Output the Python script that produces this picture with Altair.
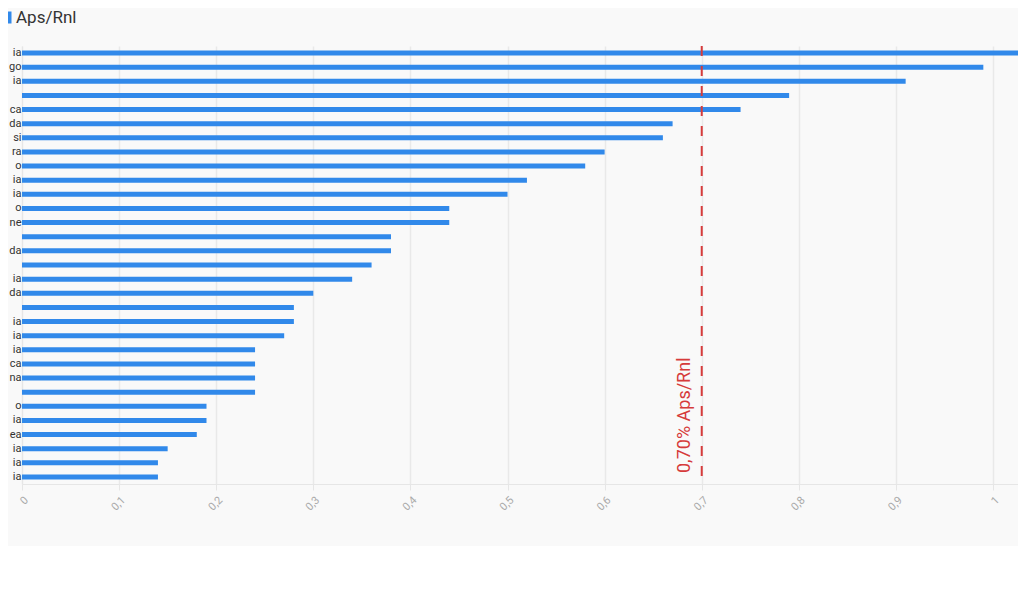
import altair as alt
import pandas as pd

# --- data ---
labels = ["ia", "go", "ia", "", "ca", "da", "si", "ra", "o", "ia", "ia", "o", "ne", "",
          "da", "", "ia", "da", "", "ia", "ia", "ia", "ca", "na", "", "o", "ia", "ea",
          "ia", "ia", "ia"]
values = [1.04, 0.99, 0.91, 0.79, 0.74, 0.67, 0.66, 0.60, 0.58, 0.52, 0.50, 0.44, 0.44,
          0.38, 0.38, 0.36, 0.34, 0.30, 0.28, 0.28, 0.27, 0.24, 0.24, 0.24, 0.24, 0.19,
          0.19, 0.18, 0.15, 0.14, 0.14]
x_ticks = [0, 0.1, 0.2, 0.3, 0.4, 0.5, 0.6, 0.7, 0.8, 0.9, 1.0]
series_name = "Aps/Rnl"
threshold = [0.7]
threshold_note = ["0,70% Aps/Rnl"]

keys = [f"{i:02d}" for i in range(len(values))]
df = pd.DataFrame({"key": keys, "label": labels, "value": values,
                   "series": [series_name] * len(values)})
ref = pd.DataFrame({"x": threshold, "note": threshold_note})

label_js = "[" + ",".join("'" + l + "'" for l in labels) + "]"

BLUE = "#3189ea"
RED = "#d63b3b"

x_scale = alt.Scale(domain=[0, 1.0257], nice=False, zero=True)

bars = alt.Chart(df).mark_bar(size=5, clip=True).encode(
    x=alt.X("value:Q", scale=x_scale,
            axis=alt.Axis(values=x_ticks, title=None, grid=True, gridColor="#e9e9e9",
                          gridWidth=1.5, domainColor="#e6e6e6", tickColor="#e6e6e6",
                          tickSize=6, labelColor="#aaaaaa", labelFontSize=11,
                          labelAngle=-45, labelPadding=4,
                          labelExpr="replace(format(datum.value, '~g'), '.', ',')")),
    y=alt.Y("key:N", sort=keys, scale=alt.Scale(paddingInner=0, paddingOuter=0),
            axis=alt.Axis(title=None, labelExpr=label_js + "[toNumber(datum.value)]",
                          labelFontSize=11, labelColor="#333333", tickSize=0,
                          labelPadding=1, domainColor="#e6e6e6", grid=False)),
    color=alt.Color("series:N", scale=alt.Scale(range=[BLUE]),
                    legend=alt.Legend(orient="none", legendX=-23, legendY=-37, title=None,
                                      padding=0, symbolOffset=0,
                                      symbolType="M-0.5,-1.5H1V1.5H-0.5Z", symbolSize=64,
                                      symbolStrokeWidth=0, labelFontSize=17,
                                      labelColor="#333333", labelOffset=0)),
)

rule = alt.Chart(ref).mark_rule(color=RED, strokeDash=[10, 10], strokeWidth=2).encode(
    x=alt.X("x:Q", scale=x_scale)
)

note = alt.Chart(ref).mark_text(angle=270, align="left", baseline="bottom", dx=11, dy=-8,
                                fontSize=18, color=RED).encode(
    x=alt.X("x:Q", scale=x_scale),
    y=alt.value(438),
    text="note:N",
)

chart = alt.layer(bars, rule, note).properties(
    width=996, height=438,
    autosize=alt.AutoSizeParams(type="none"),
    padding={"left": 14, "top": 38, "right": 0, "bottom": 62},
    background="#f9f9f9",
).configure(font="Roboto").configure_view(stroke=None)

chart.save("out.html", embed_options={"renderer": "svg", "actions": False})
